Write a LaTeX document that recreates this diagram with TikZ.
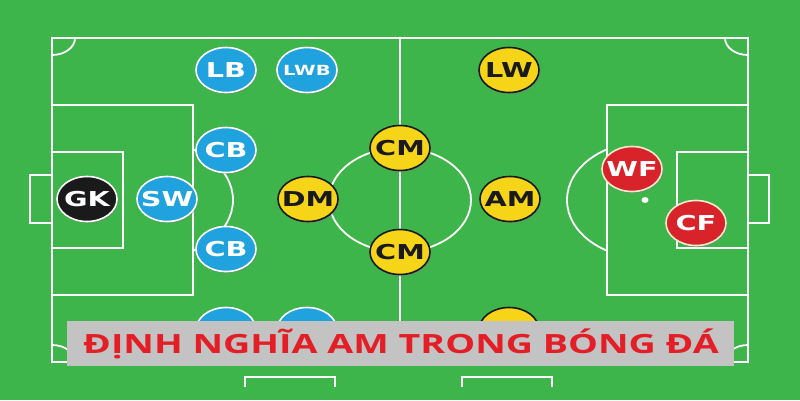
\documentclass[tikz,border=0pt]{standalone}
\usepackage{fontspec}
\setmainfont{Open Sans}
\newfontfamily\posfont{DejaVu Sans}
\usetikzlibrary{shapes.geometric,shadows}
\definecolor{pitch}{HTML}{3DB54A}
\definecolor{posblue}{HTML}{1FA2DD}
\definecolor{posyellow}{HTML}{F6D519}
\definecolor{posred}{HTML}{D8232A}
\definecolor{poscream}{HTML}{F7E9CF}
\definecolor{posblack}{HTML}{1A1A1A}
\definecolor{bannergray}{HTML}{C3C3C3}
\definecolor{bannerred}{HTML}{E41E26}
\newcommand\wide[1]{\makebox[0pt][c]{\scalebox{1.4}[1]{#1}}}
\begin{document}
\begin{tikzpicture}[x=1pt,y=-1pt,
  fieldline/.style={draw=white, line width=1.8pt},
  playerbox/.style={ellipse, minimum width=60pt, minimum height=45pt, inner sep=0pt, line width=1.6pt,
    drop shadow={shadow xshift=1.2pt, shadow yshift=-1.8pt, opacity=0.45},
    font=\posfont\bfseries\fontsize{20.5}{20.5}\selectfont},
  bluepos/.style={playerbox, fill=posblue, draw=white, text=white},
  yellowpos/.style={playerbox, fill=posyellow, draw=posblack, text=posblack},
  redpos/.style={playerbox, fill=posred, draw=poscream, text=white},
  blackpos/.style={playerbox, fill=posblack, draw=white, text=white},
  smalltext/.style={font=\posfont\bfseries\fontsize{14}{14}\selectfont}]
\useasboundingbox (0,0) rectangle (800,400);
\fill[pitch] (0,0) rectangle (800,400);
% outer field
\draw[fieldline] (52,38) rectangle (748,362);
\draw[fieldline] (400,38) -- (400,362);
\draw[fieldline] (400,200) ellipse [x radius=71, y radius=52];
% left side
\draw[fieldline] (52,105) rectangle (193,295);
\draw[fieldline] (52,152) rectangle (123,248);
\draw[fieldline] (52,175) -- (30,175) -- (30,223) -- (52,223);
\fill[white] (155,200) ellipse [x radius=3, y radius=2.5];
\begin{scope}
\clip (193,100) rectangle (260,300);
\draw[fieldline] (155,200) ellipse [x radius=78, y radius=58];
\end{scope}
% right side
\draw[fieldline] (607,105) rectangle (748,295);
\draw[fieldline] (677,152) rectangle (748,248);
\draw[fieldline] (748,175) -- (769,175) -- (769,223) -- (748,223);
\fill[white] (645,200) ellipse [x radius=3.5, y radius=3];
\begin{scope}
\clip (540,100) rectangle (607,300);
\draw[fieldline] (645,200) ellipse [x radius=78, y radius=58];
\end{scope}
% corners
\begin{scope}
\clip (52,38) rectangle (748,362);
\draw[fieldline] (52,38) ellipse [x radius=23, y radius=17];
\draw[fieldline] (748,38) ellipse [x radius=23, y radius=17];
\draw[fieldline] (52,362) ellipse [x radius=23, y radius=17];
\draw[fieldline] (748,362) ellipse [x radius=23, y radius=17];
\end{scope}
% bottom partial boxes
\draw[fieldline] (245,387) -- (245,377) -- (335,377) -- (335,387);
\draw[fieldline] (462,387) -- (462,377) -- (552,377) -- (552,387);
% players
\node[bluepos] (lb) at (226,70) {\wide{LB}};
\node[bluepos, smalltext] (lwb) at (307,70) {\wide{LWB}};
\node[bluepos] (cb1) at (226,150) {\wide{CB}};
\node[bluepos] (cb2) at (226,249) {\wide{CB}};
\node[blackpos] (gk) at (87,199) {\wide{GK}};
\node[bluepos] (sw) at (167,199) {\wide{SW}};
\node[bluepos] (rb) at (226,330) {};
\node[bluepos] (rwb) at (307,330) {};
\node[yellowpos] (dm) at (308,199) {\wide{DM}};
\node[yellowpos] (cm1) at (400,148) {\wide{CM}};
\node[yellowpos] (cm2) at (400,252) {\wide{CM}};
\node[yellowpos] (am) at (510,199) {\wide{AM}};
\node[yellowpos] (lw) at (509,70) {\wide{LW}};
\node[yellowpos] (rw) at (509,330) {};
\node[redpos] (wf) at (632,169) {\wide{WF}};
\node[redpos] (cf) at (696,223) {\wide{CF}};
% banner
\fill[bannergray] (67,321) rectangle (734,366);
\node[text=bannerred, font=\bfseries\fontsize{26.5}{26.5}\selectfont, inner sep=0pt, anchor=base] (title) at (401,353) {\scalebox{1.42}[1]{ĐỊNH NGHĨA AM TRONG BÓNG ĐÁ}};
\end{tikzpicture}
\end{document}
